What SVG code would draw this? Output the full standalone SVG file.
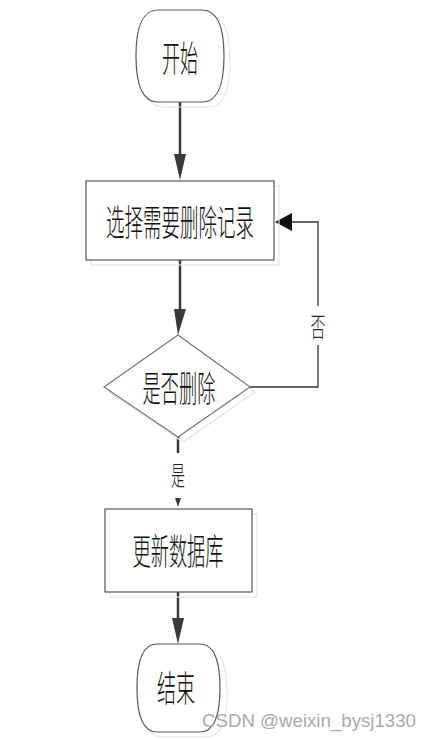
<svg xmlns="http://www.w3.org/2000/svg" width="433" height="739" viewBox="0 0 433 739">
<style>
.shadow{fill:none;stroke:#e4e4e4;stroke-width:1.2}
.shape{fill:#fff;stroke:#555;stroke-width:1.2}
.t{font-family:"Noto Sans CJK SC","Liberation Sans",sans-serif;font-size:28px;font-weight:300;fill:#111;text-anchor:middle;dominant-baseline:central}
.lbl{font-family:"Noto Sans CJK SC","Liberation Sans",sans-serif;font-size:20px;font-weight:300;fill:#222;text-anchor:middle;dominant-baseline:central}
.line{fill:none;stroke:#3a3a3a;stroke-width:2.5}
.thin{fill:none;stroke:#333;stroke-width:1.3}
</style>
<rect width="433" height="739" fill="#fff"/>
<g id="connectors">
<line class="line" x1="180" y1="102" x2="180" y2="155"/>
<path d="M174,154 L186,154 L180,180 Z" fill="#3a3a3a"/>
<line class="line" x1="180" y1="260" x2="180" y2="310"/>
<path d="M174,309 L186,309 L178,335 Z" fill="#3a3a3a"/>
<polyline class="thin" points="250,387 318,387 318,345"/>
<polyline class="thin" points="318,306 318,222 292,222"/>
<path d="M292,213 L292,231 L275,222 Z" fill="#111"/>
<text class="lbl" x="318" y="325" transform="translate(318 325) scale(0.75 1.35) translate(-318 -325)">否</text>
<line class="line" x1="178" y1="437" x2="178" y2="453"/>
<text class="lbl" x="178" y="474" transform="translate(178 474) scale(0.7 1.35) translate(-178 -474)">是</text>
<path d="M175,498 L181,498 L178,507 Z" fill="#3a3a3a"/>
<line class="line" x1="178" y1="592" x2="178" y2="620"/>
<path d="M172,618 L184,618 L178,644 Z" fill="#3a3a3a"/>
</g>
<g id="start">
<path class="shadow" d="M163,15 H209 C227,15 230,40 230,61 C230,82 227,107 209,107 H163 C145,107 142,82 142,61 C142,40 145,15 163,15 Z"/>
<path class="shape" d="M158,10 H202 C221,10 224,35 224,56 C224,77 221,102 202,102 H158 C139,102 136,77 136,56 C136,35 139,10 158,10 Z"/>
<text class="t" x="180" y="56" textLength="36" lengthAdjust="spacingAndGlyphs" transform="translate(180 56) scale(1 1.3) translate(-180 -56)">开始</text>
</g>
<g id="select">
<rect class="shadow" x="91" y="186" width="188" height="79"/>
<rect class="shape" x="86" y="181" width="188" height="79"/>
<text class="t" x="180" y="220" textLength="148" lengthAdjust="spacingAndGlyphs" transform="translate(180 220) scale(1 1.3) translate(-180 -220)">选择需要删除记录</text>
</g>
<g id="decide">
<polygon class="shadow" points="183,340 255,392 183,442 109,392"/>
<polygon class="shape" points="178,335 250,387 178,437 104,387" style="stroke:#777"/>
<text class="t" x="179" y="386" textLength="73" lengthAdjust="spacingAndGlyphs" transform="translate(179 386) scale(1 1.3) translate(-179 -386)">是否删除</text>
</g>
<g id="update">
<rect class="shadow" x="110" y="514" width="147" height="83"/>
<rect class="shape" x="105" y="509" width="147" height="83"/>
<text class="t" x="178" y="549" textLength="91" lengthAdjust="spacingAndGlyphs" transform="translate(178 549) scale(1 1.3) translate(-178 -549)">更新数据库</text>
</g>
<g id="end">
<path class="shadow" d="M162,649 H207 C224,649 227,672 227,693 C227,714 224,737 207,737 H162 C145,737 142,714 142,693 C142,672 145,649 162,649 Z"/>
<path class="shape" d="M157,644 H200 C217,644 220,667 220,688 C220,709 217,732 200,732 H157 C140,732 137,709 137,688 C137,667 140,644 157,644 Z"/>
<text class="t" x="176" y="686" textLength="38" lengthAdjust="spacingAndGlyphs" transform="translate(176 686) scale(1 1.3) translate(-176 -686)">结束</text>
</g>
<text x="309" y="727" style="font-family:'Liberation Sans',sans-serif;font-size:18px;fill:#aaa;text-anchor:middle" textLength="214" lengthAdjust="spacingAndGlyphs">CSDN @weixin_bysj1330</text>
</svg>
